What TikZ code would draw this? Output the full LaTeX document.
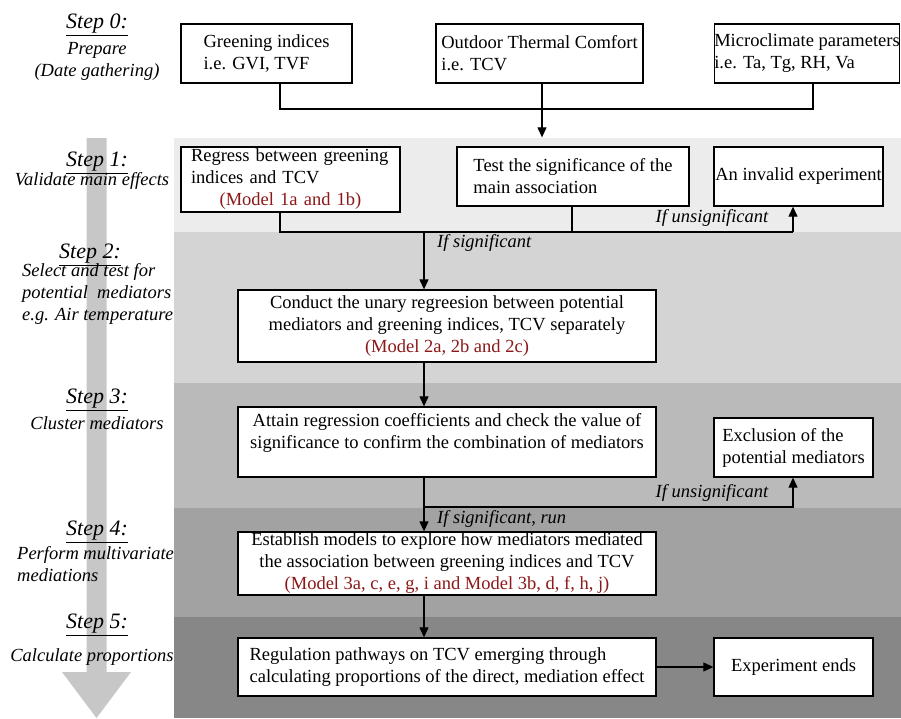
\documentclass[tikz,border=0pt]{standalone}
\usepackage{fontspec}
\setmainfont{Liberation Serif}
\usetikzlibrary{arrows.meta,calc}
\definecolor{bandA}{gray}{0.925}
\definecolor{bandB}{gray}{0.83}
\definecolor{bandC}{gray}{0.73}
\definecolor{bandD}{gray}{0.635}
\definecolor{bandE}{gray}{0.53}
\definecolor{arrowgray}{gray}{0.78}
\definecolor{modred}{RGB}{140,25,25}
\begin{document}
\begin{tikzpicture}[x=1pt,y=-1pt,
  font=\fontsize{18.5}{22}\selectfont,
  box/.style={draw,line width=1.3pt,fill=white,inner sep=0pt},
  conn/.style={line width=1.1pt},
  arr/.style={conn,-{Triangle[length=10pt,width=9pt]}},
  steptitle/.style={font=\fontsize{22}{26}\selectfont\itshape,inner sep=0pt},
  stepsub/.style={font=\fontsize{18.5}{22}\selectfont\itshape,align=center,inner sep=0pt},
  cond/.style={font=\fontsize{18.5}{22}\selectfont\itshape,inner sep=0pt}]
\useasboundingbox (0,0) rectangle (901,718);
% bands
\fill[bandA] (174,138) rectangle (901,232);
\fill[bandB] (174,232) rectangle (901,383);
\fill[bandC] (174,383) rectangle (901,508);
\fill[bandD] (174,508) rectangle (901,617);
\fill[bandE] (174,617) rectangle (901,718);
% big left arrow
\fill[arrowgray] (86.5,138) -- (106.5,138) -- (106.5,672) -- (131,672) -- (96.5,718) -- (62,672) -- (86.5,672) -- cycle;
% step labels
\node[steptitle] (s0t) at (97,25) {\underline{Step 0:}};
\node[stepsub] (s0s) at (97,61) {Prepare\\(Date gathering)};
\node[steptitle] (s1t) at (97,163) {\underline{Step 1:}};
\node[stepsub] (s1s) at (92,181) {Validate main effects};
\node[steptitle] (s2t) at (90,255) {\underline{Step 2:}};
\node[stepsub,align=left,anchor=west] (s2s) at (22,294) {Select and test for\\potential\ \ mediators\\e.g. Air temperature};
\node[steptitle] (s3t) at (97,400) {\underline{Step 3:}};
\node[stepsub] (s3s) at (97,423) {Cluster mediators};
\node[steptitle] (s4t) at (97,532) {\underline{Step 4:}};
\node[stepsub,align=left,anchor=west] (s4s) at (17,564) {Perform multivariate\\mediations};
\node[steptitle] (s5t) at (97,625) {\underline{Step 5:}};
\node[stepsub] (s5s) at (92,657) {Calculate proportions};
% boxes
\node[box,minimum width=171pt,minimum height=59pt,align=left] (g) at (266.5,53.5) {Greening indices\\i.e. GVI, TVF};
\node[box,minimum width=207pt,minimum height=59pt,align=left] (o) at (539.5,53.5) {Outdoor Thermal Comfort\\i.e. TCV};
\node[box,minimum width=184pt,minimum height=59pt,align=left] (m) at (807,53.5) {Microclimate parameters\\i.e. Ta, Tg, RH, Va};
\node[box,minimum width=219pt,minimum height=65pt,text width=199pt,align=left] (r) at (290.5,179.5) {Regress between greening\\indices and TCV\par{\centering\color{modred}(Model 1a and 1b)\par}};
\node[box,minimum width=232pt,minimum height=59pt,align=left] (t) at (573,176.5) {Test the significance of the\\main association};
\node[box,minimum width=169pt,minimum height=59pt] (inv) at (798.5,176.5) {An invalid experiment};
\node[box,minimum width=418pt,minimum height=72pt,align=center] (cd) at (447,326) {Conduct the unary regreesion between potential\\mediators and greening indices, TCV separately\\{\color{modred}(Model 2a, 2b and 2c)}};
\node[box,minimum width=418pt,minimum height=70pt,align=center] (at) at (447,442) {Attain regression coefficients and check the value of\\significance to confirm the combination of mediators\\\mbox{}};
\node[box,minimum width=159pt,minimum height=59pt,align=left] (ex) at (793.5,447.5) {Exclusion of the\\potential mediators};
\node[box,minimum width=418pt,minimum height=63pt,align=center] (es) at (447,563.5) {Establish models to explore how mediators mediated\\the association between greening indices and TCV\\{\color{modred}(Model 3a, c, e, g, i and Model 3b, d, f, h, j)}};
\node[box,minimum width=418pt,minimum height=58pt,align=left] (rg) at (447,667) {Regulation pathways on TCV emerging through\\calculating proportions of the direct, mediation effect};
\node[box,minimum width=159pt,minimum height=58pt] (end) at (793.5,667) {Experiment ends};
% connectors
\coordinate (busL) at (280,109);
\coordinate (busR) at (813,109);
\coordinate (oc) at (542,109);
\draw[conn] (busL |- g.south) -- (busL) -- (busR) -- (busR |- m.south);
\draw[arr,shorten >=9pt] (oc |- o.south) -- (oc |- t.north);
\coordinate (b1L) at (280,232);
\coordinate (b1R) at (793,232);
\coordinate (b1T) at (572,232);
\coordinate (d1) at (424,232);
\draw[conn] (b1L |- r.south) -- (b1L) -- (b1R);
\draw[arr] (b1R) -- (b1R |- inv.south);
\draw[conn] (b1T |- t.south) -- (b1T);
\draw[arr] (d1) -- (d1 |- cd.north);
\draw[arr] (d1 |- cd.south) -- (d1 |- at.north);
\coordinate (b3L) at (424,507);
\coordinate (b3R) at (793,507);
\draw[arr] (d1 |- at.south) -- (d1 |- es.north);
\draw[arr] (b3L) -- (b3R) -- (b3R |- ex.south);
\draw[arr] (d1 |- es.south) -- (d1 |- rg.north);
\draw[arr] (rg) -- (end);
% condition labels
\node[cond] (c1) at (712,218) {If unsignificant};
\node[cond,anchor=west] (c2) at (437,243) {If significant};
\node[cond] (c3) at (712,493) {If unsignificant};
\node[cond,anchor=west] (c4) at (437,519) {If significant, run};
\end{tikzpicture}
\end{document}
